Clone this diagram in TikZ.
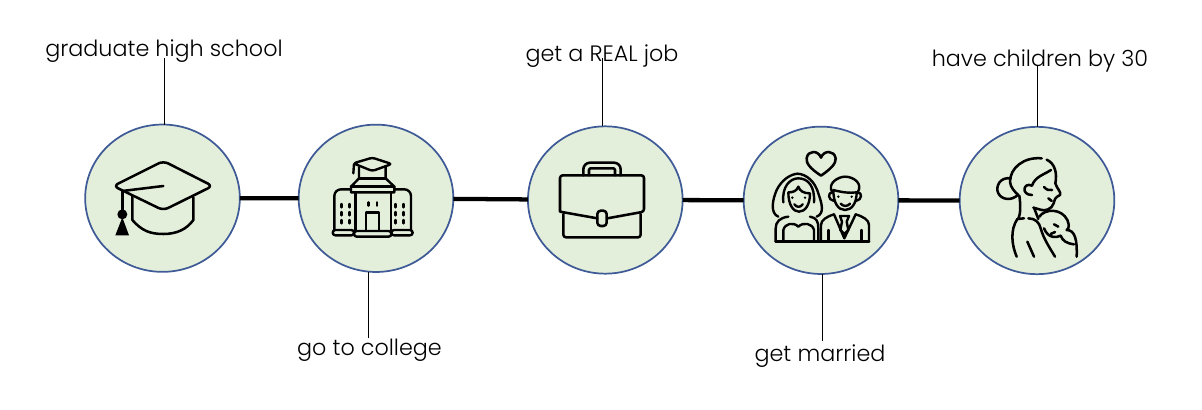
\documentclass[tikz,border=0pt]{standalone}
\usepackage{fontspec}
\setmainfont{Poppins}[UprightFont=* Light]
\usetikzlibrary{shapes.geometric}
\definecolor{circfill}{HTML}{E4EFDB}
\definecolor{circline}{HTML}{3F5B97}
\tikzset{
  stage/.style={ellipse,draw=circline,fill=circfill,line width=1.3pt,inner sep=0pt,outer sep=0pt,minimum width=116pt,minimum height=110.5pt},
  lab/.style={anchor=base,inner sep=0pt,font=\fontsize{16.7pt}{19pt}\selectfont},
  link/.style={line width=3.2pt,black,yshift=.6pt},
  leader/.style={line width=.75pt,black},
  icon/.style={line width=1.9pt,line cap=round,line join=round,black},
  thin icon/.style={line width=1.8pt,line cap=round,line join=round,black},
  zoomed/.style={x=.25pt,y=-.25pt}
}
\begin{document}
\begin{tikzpicture}[x=.75pt,y=-.75pt]
\useasboundingbox (0,0) rectangle (1202,410);
\fill[white] (0,0) rectangle (1202,410);
\node[stage] (c1) at (162.5,198.2) {};
\node[stage] (c2) at (376,198.3) {};
\node[stage] (c3) at (605.3,200) {};
\node[stage] (c4) at (821,200.3) {};
\node[stage] (c5) at (1037,200.5) {};
\draw[link] (c1) -- (c2);
\draw[link] (c2) -- (c3);
\draw[link] (c3) -- (c4);
\draw[link] (c4) -- (c5);
\node[lab] (t1) at (164,56) {graduate high school};
\node[lab] (t2) at (369.5,355) {go to college};
\node[lab] (t3) at (602,62) {get a REAL job};
\node[lab] (t4) at (820,361) {get married};
\node[lab] (t5) at (1040,66) {have children by 30};
\coordinate (a1) at (164,58);
\coordinate (a2) at (368,338);
\coordinate (a3) at (602,58);
\coordinate (a4) at (822,341);
\coordinate (a5) at (1037,65);
\draw[leader] (a1) -- (a1 |- c1.north);
\draw[leader] (a2) -- (a2 |- c2.south);
\draw[leader] (a3) -- (a3 |- c3.north);
\draw[leader] (a4) -- (a4 |- c4.south);
\draw[leader] (a5) -- (a5 |- c5.north);
% cap
\begin{scope}[shift={(70,110)},zoomed]
\draw[icon,rounded corners=4pt] (280,153) -- (428,228) -- (280,301) -- (130,228) -- cycle;
\draw[icon] (157,243) -- (280,228);
\draw[icon] (157,243) -- (157,310);
\fill (157,313) circle[radius=15];
\fill (157,322) -- (177,376) -- (136,376) -- cycle;
\draw[icon] (187,258) -- (187,330) .. controls (215,362) and (240,372) .. (280,372) .. controls (320,372) and (350,358) .. (370,330) -- (370,262);
\end{scope}
% college
\begin{scope}[shift={(290,110)},zoomed]
\draw[thin icon,rounded corners=2pt] (247,143) -- (305,162) -- (247,183) -- (190,160) -- cycle;
\draw[thin icon] (192,162) -- (190,190);
\draw[thin icon] (207,172) -- (207,205) -- (183,230) -- (183,247) -- (313,247) -- (313,230) -- (287,205) -- (287,172);
\draw[thin icon] (207,205) -- (287,205) (183,230) -- (313,230);
\draw[thin icon] (197,247) -- (197,363) (303,247) -- (303,363);
\draw[thin icon,rounded corners=2pt] (192,363) rectangle (304,380);
\draw[thin icon] (228,360) -- (228,307) -- (267,307) -- (267,360);
\draw[thin icon,rounded corners=5pt] (133,360) -- (133,238) -- (183,238);
\draw[thin icon,rounded corners=5pt] (363,360) -- (363,238) -- (313,238);
\draw[thin icon,rounded corners=2pt] (128,360) rectangle (192,376);
\draw[thin icon,rounded corners=2pt] (304,360) rectangle (368,376);
\foreach \p in {155,179,316,340}{\foreach \q in {287,311,335}{\draw[thin icon] (\p,\q-5) -- (\p,\q+5);}}
\foreach \p in {235,261}{\draw[thin icon] (\p,277) -- (\p,287);}
\end{scope}
% briefcase
\begin{scope}[shift={(520,110)},zoomed]
\draw[icon,rounded corners=2pt] (120,305) -- (120,196) -- (372,196) -- (372,305) -- (262,325) (232,325) -- (120,305);
\draw[icon,rounded corners=2pt] (130,312) -- (130,382) -- (362,382) -- (362,312);
\draw[icon,rounded corners=2.5pt] (232,302) rectangle (260,348);
\draw[icon,rounded corners=5pt] (190,196) -- (190,158) -- (302,158) -- (302,196);
\draw[icon,rounded corners=1pt] (207,196) -- (207,175) -- (285,175) -- (285,196);
\end{scope}
% couple
\begin{scope}[shift={(735,115)},zoomed]
\draw[icon] (258,182) .. controls (225,160) and (213,145) .. (215,130) .. controls (218,105) and (250,105) .. (258,128) .. controls (266,105) and (298,105) .. (302,130) .. controls (303,145) and (290,160) .. (258,182) -- cycle;
\draw[thin icon] (130,305) .. controls (105,295) and (112,255) .. (125,225) .. controls (140,195) and (165,178) .. (188,176) .. controls (215,178) and (240,200) .. (250,235) .. controls (260,265) and (270,295) .. (245,305);
\draw[thin icon] (145,262) .. controls (140,215) and (165,190) .. (190,190) .. controls (220,190) and (240,215) .. (237,262);
\draw[thin icon] (160,232) .. controls (160,270) and (175,290) .. (192,290) .. controls (210,290) and (225,270) .. (225,235) .. controls (205,235) and (195,228) .. (190,215) .. controls (185,228) and (175,232) .. (160,232);
\fill (172,248) circle[radius=4]; \fill (210,248) circle[radius=4];
\draw[thin icon] (178,268) .. controls (185,278) and (196,278) .. (203,268);
\draw[thin icon] (122,380) -- (122,340) .. controls (122,320) and (135,308) .. (160,305);
\draw[thin icon] (225,305) .. controls (245,308) and (250,320) .. (250,340) -- (250,380);
\draw[icon] (122,380) -- (402,380);
\draw[thin icon] (145,378) -- (145,345) .. controls (150,325) and (175,320) .. (190,335) .. controls (205,320) and (232,325) .. (237,345) -- (237,378);
\draw[thin icon] (292,232) .. controls (275,205) and (310,185) .. (330,185) .. controls (355,185) and (385,205) .. (368,232);
\draw[thin icon] (295,225) .. controls (295,265) and (310,285) .. (330,285) .. controls (350,285) and (365,265) .. (365,232) .. controls (345,235) and (320,232) .. (295,225);
\draw[thin icon] (292,232) .. controls (278,232) and (278,255) .. (297,258);
\draw[thin icon] (368,232) .. controls (382,232) and (382,255) .. (363,258);
\fill (310,245) circle[radius=4]; \fill (350,245) circle[radius=4];
\draw[thin icon] (317,266) .. controls (325,275) and (337,275) .. (345,266);
\draw[thin icon] (258,380) -- (258,330) .. controls (258,315) and (275,305) .. (297,298);
\draw[thin icon] (402,380) -- (402,330) .. controls (402,315) and (385,305) .. (362,298);
\draw[thin icon] (297,298) -- (328,370) -- (362,298);
\draw[thin icon] (315,303) -- (342,303) -- (335,320) -- (340,345) -- (328,357) -- (316,345) -- (321,320) -- cycle;
\draw[thin icon] (280,378) -- (280,345) (380,378) -- (380,345);
\end{scope}
% mother and baby
\begin{scope}[shift={(950,115)},zoomed]
\draw[icon] (275,130) .. controls (220,125) and (180,160) .. (180,200) .. controls (180,215) and (195,232) .. (205,240);
\draw[icon] (182,190) .. controls (150,185) and (135,215) .. (145,235) .. controls (155,255) and (185,258) .. (203,240);
\draw[icon] (290,134) .. controls (315,145) and (322,175) .. (316,205) .. controls (320,220) and (335,232) .. (330,240) .. controls (325,246) and (315,245) .. (315,252) .. controls (310,270) and (305,288) .. (275,285) -- (250,278);
\draw[icon] (303,165) .. controls (280,180) and (255,185) .. (246,212) .. controls (220,200) and (212,240) .. (246,240);
\draw[icon] (282,216) .. controls (290,225) and (298,227) .. (306,225);
\draw[icon] (295,250) -- (305,258);
\draw[icon] (208,242) .. controls (212,270) and (212,295) .. (205,312);
\draw[icon] (222,310) -- (202,312) .. controls (180,345) and (185,390) .. (200,425);
\draw[icon] (235,310) .. controls (255,310) and (268,322) .. (272,340) .. controls (280,370) and (300,400) .. (315,425);
\draw[icon] (232,380) -- (252,425);
\draw[icon] (252,278) -- (265,312);
\draw[icon] (268,305) .. controls (285,280) and (335,280) .. (352,315) .. controls (358,330) and (358,340) .. (350,345) .. controls (375,345) and (382,375) .. (380,425);
\draw[icon] (282,340) .. controls (295,372) and (320,368) .. (332,362) .. controls (338,378) and (350,385) .. (372,388);
\draw[icon] (312,328) -- (325,335);
\draw[icon] (302,357) -- (315,351);
\end{scope}
\end{tikzpicture}
\end{document}
